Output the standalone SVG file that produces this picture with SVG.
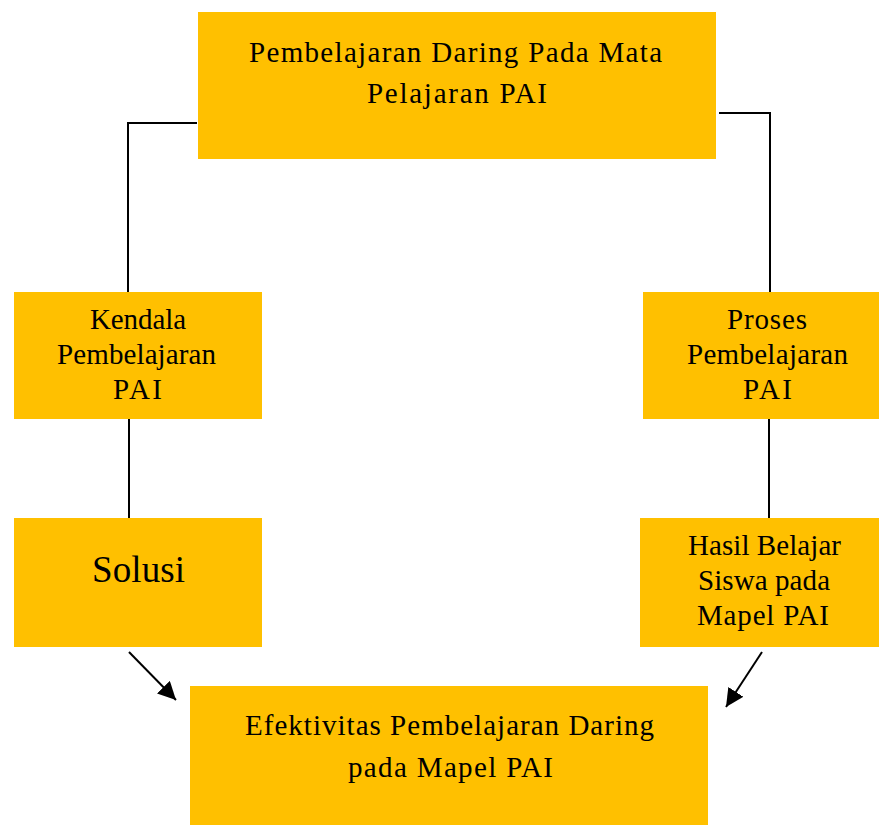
<svg xmlns="http://www.w3.org/2000/svg" width="879" height="825" viewBox="0 0 879 825">
<defs>
<style>
.box{fill:#FFC000;stroke:none}
.t{font-family:"Liberation Serif","Times New Roman",serif;font-size:29px;fill:#000;text-anchor:middle}
.big{font-size:37px}
.ln{fill:none;stroke:#000;stroke-width:2}
</style>
<marker id="ah" viewBox="0 0 10 10" refX="10" refY="5" markerWidth="9" markerHeight="9" markerUnits="strokeWidth" orient="auto">
<path d="M0,0 L10,5 L0,10 z" fill="#000"/>
</marker>
</defs>
<rect width="879" height="825" fill="#fff"/>
<g id="connectors">
<polyline class="ln" points="197,123 128,123 128,292"/>
<polyline class="ln" points="719,113 770,113 770,292"/>
<line class="ln" x1="129" y1="419" x2="129" y2="518"/>
<line class="ln" x1="769" y1="419" x2="769" y2="518"/>
<line class="ln" x1="129" y1="652" x2="176" y2="700" marker-end="url(#ah)"/>
<line class="ln" x1="762" y1="652" x2="726" y2="707" marker-end="url(#ah)"/>
</g>
<g id="node-top">
<rect class="box" x="198" y="12" width="518" height="147"/>
<text class="t" x="455.5" y="62" textLength="413" lengthAdjust="spacing">Pembelajaran  Daring  Pada Mata</text>
<text class="t" x="457" y="103" textLength="180" lengthAdjust="spacing">Pelajaran  PAI</text>
</g>
<g id="node-kendala">
<rect class="box" x="14" y="292" width="248" height="127"/>
<text class="t" x="138" y="329" textLength="96" lengthAdjust="spacing">Kendala</text>
<text class="t" x="136.5" y="364" textLength="159" lengthAdjust="spacing">Pembelajaran</text>
<text class="t" x="137.5" y="399" textLength="49" lengthAdjust="spacing">PAI</text>
</g>
<g id="node-proses">
<rect class="box" x="643" y="292" width="236" height="127"/>
<text class="t" x="767" y="329" textLength="80" lengthAdjust="spacing">Proses</text>
<text class="t" x="767.5" y="364" textLength="161" lengthAdjust="spacing">Pembelajaran</text>
<text class="t" x="767.5" y="399" textLength="49" lengthAdjust="spacing">PAI</text>
</g>
<g id="node-solusi">
<rect class="box" x="14" y="518" width="248" height="129"/>
<text class="t big" x="138.5" y="582" textLength="93" lengthAdjust="spacing">Solusi</text>
</g>
<g id="node-hasil">
<rect class="box" x="640" y="518" width="239" height="129"/>
<text class="t" x="764.5" y="555" textLength="153" lengthAdjust="spacing">Hasil Belajar</text>
<text class="t" x="764" y="590" textLength="132" lengthAdjust="spacing">Siswa pada</text>
<text class="t" x="763" y="625" textLength="132" lengthAdjust="spacing">Mapel PAI</text>
</g>
<g id="node-efektivitas">
<rect class="box" x="190" y="686" width="518" height="139"/>
<text class="t" x="449.5" y="735" textLength="409" lengthAdjust="spacing">Efektivitas  Pembelajaran  Daring</text>
<text class="t" x="450.5" y="777" textLength="205" lengthAdjust="spacing">pada Mapel PAI</text>
</g>
</svg>
